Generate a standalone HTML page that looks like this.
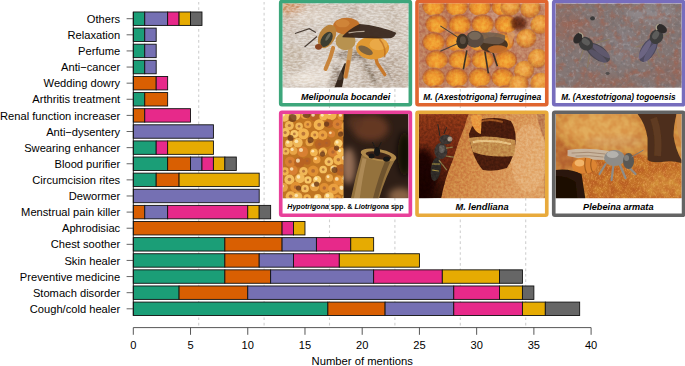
<!DOCTYPE html>
<html><head><meta charset="utf-8"><style>
html,body{margin:0;padding:0;background:#fff;width:685px;height:366px;overflow:hidden}
svg{position:absolute;left:0;top:0;display:block}
text{font-family:"Liberation Sans",sans-serif;font-size:11px;fill:#000}
</style></head><body>
<svg width="685" height="366" viewBox="0 0 685 366">
<line x1="198.7" y1="1.9" x2="198.7" y2="327" stroke="#d0d0d0" stroke-width="1.1" stroke-dasharray="2.7 2.74"/>
<line x1="264.1" y1="1.9" x2="264.1" y2="327" stroke="#d0d0d0" stroke-width="1.1" stroke-dasharray="2.7 2.74"/>
<line x1="329.5" y1="1.9" x2="329.5" y2="327" stroke="#d0d0d0" stroke-width="1.1" stroke-dasharray="2.7 2.74"/>
<line x1="394.9" y1="1.9" x2="394.9" y2="327" stroke="#d0d0d0" stroke-width="1.1" stroke-dasharray="2.7 2.74"/>
<line x1="460.3" y1="1.9" x2="460.3" y2="327" stroke="#d0d0d0" stroke-width="1.1" stroke-dasharray="2.7 2.74"/>
<line x1="525.7" y1="1.9" x2="525.7" y2="327" stroke="#d0d0d0" stroke-width="1.1" stroke-dasharray="2.7 2.74"/>
<rect x="133.3" y="11.98" width="11.44" height="13.43" fill="#1B9E77" stroke="#111" stroke-width="0.9"/>
<rect x="144.75" y="11.98" width="22.89" height="13.43" fill="#7570B3" stroke="#111" stroke-width="0.9"/>
<rect x="167.64" y="11.98" width="11.44" height="13.43" fill="#E7298A" stroke="#111" stroke-width="0.9"/>
<rect x="179.08" y="11.98" width="11.44" height="13.43" fill="#E6AB02" stroke="#111" stroke-width="0.9"/>
<rect x="190.53" y="11.98" width="11.45" height="13.43" fill="#666666" stroke="#111" stroke-width="0.9"/>
<line x1="126.6" y1="18.7" x2="133.3" y2="18.7" stroke="#555" stroke-width="0.9"/>
<text x="120.2" y="22.8" text-anchor="end" style="font-size:11.15px">Others</text>
<rect x="133.3" y="28.1" width="11.44" height="13.43" fill="#1B9E77" stroke="#111" stroke-width="0.9"/>
<rect x="144.75" y="28.1" width="11.44" height="13.43" fill="#7570B3" stroke="#111" stroke-width="0.9"/>
<line x1="126.6" y1="34.81" x2="133.3" y2="34.81" stroke="#555" stroke-width="0.9"/>
<text x="120.2" y="38.91" text-anchor="end" style="font-size:11.15px">Relaxation</text>
<rect x="133.3" y="44.21" width="11.44" height="13.43" fill="#1B9E77" stroke="#111" stroke-width="0.9"/>
<rect x="144.75" y="44.21" width="11.44" height="13.43" fill="#7570B3" stroke="#111" stroke-width="0.9"/>
<line x1="126.6" y1="50.93" x2="133.3" y2="50.93" stroke="#555" stroke-width="0.9"/>
<text x="120.2" y="55.03" text-anchor="end" style="font-size:11.15px">Perfume</text>
<rect x="133.3" y="60.33" width="11.44" height="13.43" fill="#1B9E77" stroke="#111" stroke-width="0.9"/>
<rect x="144.75" y="60.33" width="11.44" height="13.43" fill="#7570B3" stroke="#111" stroke-width="0.9"/>
<line x1="126.6" y1="67.05" x2="133.3" y2="67.05" stroke="#555" stroke-width="0.9"/>
<text x="120.2" y="71.15" text-anchor="end" style="font-size:11.15px">Anti−cancer</text>
<rect x="133.3" y="76.45" width="22.89" height="13.43" fill="#D95F02" stroke="#111" stroke-width="0.9"/>
<rect x="156.19" y="76.45" width="11.45" height="13.43" fill="#E7298A" stroke="#111" stroke-width="0.9"/>
<line x1="126.6" y1="83.16" x2="133.3" y2="83.16" stroke="#555" stroke-width="0.9"/>
<text x="120.2" y="87.26" text-anchor="end" style="font-size:11.15px">Wedding dowry</text>
<rect x="133.3" y="92.57" width="11.44" height="13.43" fill="#1B9E77" stroke="#111" stroke-width="0.9"/>
<rect x="144.75" y="92.57" width="22.89" height="13.43" fill="#D95F02" stroke="#111" stroke-width="0.9"/>
<line x1="126.6" y1="99.28" x2="133.3" y2="99.28" stroke="#555" stroke-width="0.9"/>
<text x="120.2" y="103.38" text-anchor="end" style="font-size:11.15px">Arthritis treatment</text>
<rect x="133.3" y="108.68" width="11.44" height="13.43" fill="#D95F02" stroke="#111" stroke-width="0.9"/>
<rect x="144.75" y="108.68" width="45.78" height="13.43" fill="#E7298A" stroke="#111" stroke-width="0.9"/>
<line x1="126.6" y1="115.4" x2="133.3" y2="115.4" stroke="#555" stroke-width="0.9"/>
<text x="120.2" y="119.5" text-anchor="end" style="font-size:11.15px">Renal function increaser</text>
<rect x="133.3" y="124.8" width="80.12" height="13.43" fill="#7570B3" stroke="#111" stroke-width="0.9"/>
<line x1="126.6" y1="131.51" x2="133.3" y2="131.51" stroke="#555" stroke-width="0.9"/>
<text x="120.2" y="135.61" text-anchor="end" style="font-size:11.15px">Anti−dysentery</text>
<rect x="133.3" y="140.92" width="22.89" height="13.43" fill="#1B9E77" stroke="#111" stroke-width="0.9"/>
<rect x="156.19" y="140.92" width="11.45" height="13.43" fill="#E7298A" stroke="#111" stroke-width="0.9"/>
<rect x="167.64" y="140.92" width="45.78" height="13.43" fill="#E6AB02" stroke="#111" stroke-width="0.9"/>
<line x1="126.6" y1="147.63" x2="133.3" y2="147.63" stroke="#555" stroke-width="0.9"/>
<text x="120.2" y="151.73" text-anchor="end" style="font-size:11.15px">Swearing enhancer</text>
<rect x="133.3" y="157.03" width="34.34" height="13.43" fill="#1B9E77" stroke="#111" stroke-width="0.9"/>
<rect x="167.64" y="157.03" width="22.89" height="13.43" fill="#D95F02" stroke="#111" stroke-width="0.9"/>
<rect x="190.53" y="157.03" width="11.45" height="13.43" fill="#7570B3" stroke="#111" stroke-width="0.9"/>
<rect x="201.97" y="157.03" width="11.44" height="13.43" fill="#E7298A" stroke="#111" stroke-width="0.9"/>
<rect x="213.42" y="157.03" width="11.44" height="13.43" fill="#E6AB02" stroke="#111" stroke-width="0.9"/>
<rect x="224.86" y="157.03" width="11.44" height="13.43" fill="#666666" stroke="#111" stroke-width="0.9"/>
<line x1="126.6" y1="163.75" x2="133.3" y2="163.75" stroke="#555" stroke-width="0.9"/>
<text x="120.2" y="167.85" text-anchor="end" style="font-size:11.15px">Blood purifier</text>
<rect x="133.3" y="173.15" width="22.89" height="13.43" fill="#1B9E77" stroke="#111" stroke-width="0.9"/>
<rect x="156.19" y="173.15" width="22.89" height="13.43" fill="#D95F02" stroke="#111" stroke-width="0.9"/>
<rect x="179.08" y="173.15" width="80.12" height="13.43" fill="#E6AB02" stroke="#111" stroke-width="0.9"/>
<line x1="126.6" y1="179.87" x2="133.3" y2="179.87" stroke="#555" stroke-width="0.9"/>
<text x="120.2" y="183.97" text-anchor="end" style="font-size:11.15px">Circumcision rites</text>
<rect x="133.3" y="189.27" width="125.9" height="13.43" fill="#7570B3" stroke="#111" stroke-width="0.9"/>
<line x1="126.6" y1="195.98" x2="133.3" y2="195.98" stroke="#555" stroke-width="0.9"/>
<text x="120.2" y="200.08" text-anchor="end" style="font-size:11.15px">Dewormer</text>
<rect x="133.3" y="205.38" width="11.44" height="13.43" fill="#D95F02" stroke="#111" stroke-width="0.9"/>
<rect x="144.75" y="205.38" width="22.89" height="13.43" fill="#7570B3" stroke="#111" stroke-width="0.9"/>
<rect x="167.64" y="205.38" width="80.11" height="13.43" fill="#E7298A" stroke="#111" stroke-width="0.9"/>
<rect x="247.75" y="205.38" width="11.45" height="13.43" fill="#E6AB02" stroke="#111" stroke-width="0.9"/>
<rect x="259.2" y="205.38" width="11.44" height="13.43" fill="#666666" stroke="#111" stroke-width="0.9"/>
<line x1="126.6" y1="212.1" x2="133.3" y2="212.1" stroke="#555" stroke-width="0.9"/>
<text x="120.2" y="216.2" text-anchor="end" style="font-size:11.15px">Menstrual pain killer</text>
<rect x="133.3" y="221.5" width="148.79" height="13.43" fill="#D95F02" stroke="#111" stroke-width="0.9"/>
<rect x="282.09" y="221.5" width="11.44" height="13.43" fill="#E7298A" stroke="#111" stroke-width="0.9"/>
<rect x="293.53" y="221.5" width="11.44" height="13.43" fill="#E6AB02" stroke="#111" stroke-width="0.9"/>
<line x1="126.6" y1="228.22" x2="133.3" y2="228.22" stroke="#555" stroke-width="0.9"/>
<text x="120.2" y="232.32" text-anchor="end" style="font-size:11.15px">Aphrodisiac</text>
<rect x="133.3" y="237.62" width="91.56" height="13.43" fill="#1B9E77" stroke="#111" stroke-width="0.9"/>
<rect x="224.86" y="237.62" width="57.23" height="13.43" fill="#D95F02" stroke="#111" stroke-width="0.9"/>
<rect x="282.09" y="237.62" width="34.33" height="13.43" fill="#7570B3" stroke="#111" stroke-width="0.9"/>
<rect x="316.42" y="237.62" width="34.33" height="13.43" fill="#E7298A" stroke="#111" stroke-width="0.9"/>
<rect x="350.75" y="237.62" width="22.89" height="13.43" fill="#E6AB02" stroke="#111" stroke-width="0.9"/>
<line x1="126.6" y1="244.33" x2="133.3" y2="244.33" stroke="#555" stroke-width="0.9"/>
<text x="120.2" y="248.43" text-anchor="end" style="font-size:11.15px">Chest soother</text>
<rect x="133.3" y="253.74" width="91.56" height="13.43" fill="#1B9E77" stroke="#111" stroke-width="0.9"/>
<rect x="224.86" y="253.74" width="34.34" height="13.43" fill="#D95F02" stroke="#111" stroke-width="0.9"/>
<rect x="259.2" y="253.74" width="34.33" height="13.43" fill="#7570B3" stroke="#111" stroke-width="0.9"/>
<rect x="293.53" y="253.74" width="45.78" height="13.43" fill="#E7298A" stroke="#111" stroke-width="0.9"/>
<rect x="339.31" y="253.74" width="80.12" height="13.43" fill="#E6AB02" stroke="#111" stroke-width="0.9"/>
<line x1="126.6" y1="260.45" x2="133.3" y2="260.45" stroke="#555" stroke-width="0.9"/>
<text x="120.2" y="264.55" text-anchor="end" style="font-size:11.15px">Skin healer</text>
<rect x="133.3" y="269.85" width="91.56" height="13.43" fill="#1B9E77" stroke="#111" stroke-width="0.9"/>
<rect x="224.86" y="269.85" width="45.78" height="13.43" fill="#D95F02" stroke="#111" stroke-width="0.9"/>
<rect x="270.64" y="269.85" width="103" height="13.43" fill="#7570B3" stroke="#111" stroke-width="0.9"/>
<rect x="373.64" y="269.85" width="68.67" height="13.43" fill="#E7298A" stroke="#111" stroke-width="0.9"/>
<rect x="442.31" y="269.85" width="57.23" height="13.43" fill="#E6AB02" stroke="#111" stroke-width="0.9"/>
<rect x="499.54" y="269.85" width="22.89" height="13.43" fill="#666666" stroke="#111" stroke-width="0.9"/>
<line x1="126.6" y1="276.57" x2="133.3" y2="276.57" stroke="#555" stroke-width="0.9"/>
<text x="120.2" y="280.67" text-anchor="end" style="font-size:11.15px">Preventive medicine</text>
<rect x="133.3" y="285.97" width="45.78" height="13.43" fill="#1B9E77" stroke="#111" stroke-width="0.9"/>
<rect x="179.08" y="285.97" width="68.67" height="13.43" fill="#D95F02" stroke="#111" stroke-width="0.9"/>
<rect x="247.75" y="285.97" width="206.01" height="13.43" fill="#7570B3" stroke="#111" stroke-width="0.9"/>
<rect x="453.76" y="285.97" width="45.78" height="13.43" fill="#E7298A" stroke="#111" stroke-width="0.9"/>
<rect x="499.54" y="285.97" width="22.89" height="13.43" fill="#E6AB02" stroke="#111" stroke-width="0.9"/>
<rect x="522.43" y="285.97" width="11.44" height="13.43" fill="#666666" stroke="#111" stroke-width="0.9"/>
<line x1="126.6" y1="292.68" x2="133.3" y2="292.68" stroke="#555" stroke-width="0.9"/>
<text x="120.2" y="296.78" text-anchor="end" style="font-size:11.15px">Stomach disorder</text>
<rect x="133.3" y="302.09" width="194.56" height="13.43" fill="#1B9E77" stroke="#111" stroke-width="0.9"/>
<rect x="327.87" y="302.09" width="57.23" height="13.43" fill="#D95F02" stroke="#111" stroke-width="0.9"/>
<rect x="385.09" y="302.09" width="68.67" height="13.43" fill="#7570B3" stroke="#111" stroke-width="0.9"/>
<rect x="453.76" y="302.09" width="68.67" height="13.43" fill="#E7298A" stroke="#111" stroke-width="0.9"/>
<rect x="522.43" y="302.09" width="22.89" height="13.43" fill="#E6AB02" stroke="#111" stroke-width="0.9"/>
<rect x="545.32" y="302.09" width="34.34" height="13.43" fill="#666666" stroke="#111" stroke-width="0.9"/>
<line x1="126.6" y1="308.8" x2="133.3" y2="308.8" stroke="#555" stroke-width="0.9"/>
<text x="120.2" y="312.9" text-anchor="end" style="font-size:11.15px">Cough/cold healer</text>
<line x1="133.3" y1="11.98" x2="133.3" y2="315.52" stroke="#111" stroke-width="0.9"/>
<line x1="133.3" y1="327.6" x2="591.1" y2="327.6" stroke="#444" stroke-width="0.9"/>
<line x1="133.3" y1="327.6" x2="133.3" y2="334.8" stroke="#444" stroke-width="0.9"/>
<text x="133.3" y="348.5" text-anchor="middle" style="font-size:11.1px">0</text>
<line x1="190.53" y1="327.6" x2="190.53" y2="334.8" stroke="#444" stroke-width="0.9"/>
<text x="190.53" y="348.5" text-anchor="middle" style="font-size:11.1px">5</text>
<line x1="247.75" y1="327.6" x2="247.75" y2="334.8" stroke="#444" stroke-width="0.9"/>
<text x="247.75" y="348.5" text-anchor="middle" style="font-size:11.1px">10</text>
<line x1="304.98" y1="327.6" x2="304.98" y2="334.8" stroke="#444" stroke-width="0.9"/>
<text x="304.98" y="348.5" text-anchor="middle" style="font-size:11.1px">15</text>
<line x1="362.2" y1="327.6" x2="362.2" y2="334.8" stroke="#444" stroke-width="0.9"/>
<text x="362.2" y="348.5" text-anchor="middle" style="font-size:11.1px">20</text>
<line x1="419.43" y1="327.6" x2="419.43" y2="334.8" stroke="#444" stroke-width="0.9"/>
<text x="419.43" y="348.5" text-anchor="middle" style="font-size:11.1px">25</text>
<line x1="476.65" y1="327.6" x2="476.65" y2="334.8" stroke="#444" stroke-width="0.9"/>
<text x="476.65" y="348.5" text-anchor="middle" style="font-size:11.1px">30</text>
<line x1="533.88" y1="327.6" x2="533.88" y2="334.8" stroke="#444" stroke-width="0.9"/>
<text x="533.88" y="348.5" text-anchor="middle" style="font-size:11.1px">35</text>
<line x1="591.1" y1="327.6" x2="591.1" y2="334.8" stroke="#444" stroke-width="0.9"/>
<text x="591.1" y="348.5" text-anchor="middle" style="font-size:11.1px">40</text>
<text x="362.2" y="365.3" text-anchor="middle" style="font-size:11.25px">Number of mentions</text>
<defs><filter id="b05" x="-10%" y="-10%" width="120%" height="120%"><feGaussianBlur stdDeviation="0.5"/></filter>
<filter id="b06" x="-10%" y="-10%" width="120%" height="120%"><feGaussianBlur stdDeviation="0.6"/></filter>
<filter id="b08" x="-10%" y="-10%" width="120%" height="120%"><feGaussianBlur stdDeviation="0.8"/></filter>
<filter id="b15" x="-20%" y="-20%" width="140%" height="140%"><feGaussianBlur stdDeviation="1.5"/></filter>
<filter id="b3" x="-50%" y="-50%" width="200%" height="200%"><feGaussianBlur stdDeviation="3"/></filter>
<filter id="noise3" x="0" y="0" width="100%" height="100%" color-interpolation-filters="sRGB"><feTurbulence type="fractalNoise" baseFrequency="0.12" numOctaves="3" seed="5"/><feColorMatrix type="matrix" values="0 0 0 0 0.64  0 0 0 0 0.38  0 0 0 0 0.30  3.0 0 0 0 -1.4"/></filter><filter id="noise3c" x="0" y="0" width="100%" height="100%" color-interpolation-filters="sRGB"><feTurbulence type="fractalNoise" baseFrequency="0.2" numOctaves="2" seed="21"/><feColorMatrix type="matrix" values="0 0 0 0 0.38  0 0 0 0 0.38  0 0 0 0 0.40  3.0 0 0 0 -1.6"/></filter>
<filter id="noise3b" x="0" y="0" width="100%" height="100%" color-interpolation-filters="sRGB"><feTurbulence type="fractalNoise" baseFrequency="0.3" numOctaves="2" seed="8"/><feColorMatrix type="matrix" values="0 0 0 0 0.78  0 0 0 0 0.78  0 0 0 0 0.80  3.4 0 0 0 -1.8"/></filter>
<filter id="noise6" x="0" y="0" width="100%" height="100%" color-interpolation-filters="sRGB"><feTurbulence type="fractalNoise" baseFrequency="0.5" numOctaves="2" seed="9"/><feColorMatrix type="matrix" values="0 0 0 0 0.95  0 0 0 0 0.68  0 0 0 0 0.38  2.6 0 0 0 -1.2"/></filter>
<linearGradient id="p1bg" x1="0" y1="0" x2="1" y2="1"><stop offset="0" stop-color="#d2bcaa"/><stop offset="0.25" stop-color="#d6cdc4"/><stop offset="0.6" stop-color="#dad0c6"/><stop offset="1" stop-color="#d0c4b8"/></linearGradient>
<radialGradient id="cellg" cx="0.5" cy="0.58" r="0.55" fx="0.5" fy="0.66"><stop offset="0" stop-color="#f4a836"/><stop offset="0.45" stop-color="#ee9a30"/><stop offset="0.72" stop-color="#d8802c"/><stop offset="0.88" stop-color="#b8663c"/><stop offset="1" stop-color="#c08466" stop-opacity="0"/></radialGradient><radialGradient id="capg" cx="0.45" cy="0.4" r="0.55"><stop offset="0" stop-color="#f4b458"/><stop offset="0.5" stop-color="#e89a3c"/><stop offset="0.85" stop-color="#c87834"/><stop offset="1" stop-color="#a85a30" stop-opacity="0"/></radialGradient>
<linearGradient id="p3bg" x1="0" y1="0" x2="1" y2="1"><stop offset="0" stop-color="#86786f"/><stop offset="0.5" stop-color="#7e7a78"/><stop offset="1" stop-color="#84766e"/></linearGradient>
<linearGradient id="p4bg" x1="0" y1="0" x2="1" y2="1"><stop offset="0" stop-color="#4a3022"/><stop offset="0.5" stop-color="#3c281c"/><stop offset="1" stop-color="#4e3220"/></linearGradient>
<linearGradient id="p5bg" x1="0" y1="0" x2="0" y2="1"><stop offset="0" stop-color="#8a3616"/><stop offset="0.5" stop-color="#6a2410"/><stop offset="1" stop-color="#2a0c04"/></linearGradient>
<linearGradient id="p5mound" x1="0" y1="0" x2="1" y2="0.3"><stop offset="0" stop-color="#c07436"/><stop offset="0.45" stop-color="#d28a48"/><stop offset="1" stop-color="#dea064"/></linearGradient>
<linearGradient id="p6bg_old" x1="0" y1="0" x2="1" y2="1"><stop offset="0" stop-color="#c89060"/><stop offset="0.4" stop-color="#b87a44"/><stop offset="1" stop-color="#a8602a"/></linearGradient>
<clipPath id="cl4"><rect x="0" y="0" width="61" height="86"/></clipPath>
<clipPath id="cl6"><path d="M22 52 Q50 40 76 40 Q100 44 126 46 L126 86 L30 86 Q26 64 22 52Z"/></clipPath>
<filter id="nz1" x="0" y="0" width="100%" height="100%" color-interpolation-filters="sRGB"><feTurbulence type="fractalNoise" baseFrequency="0.25 0.6" numOctaves="2" seed="3"/><feColorMatrix type="matrix" values="2.6 0 0 0 -0.8  2.6 0 0 0 -0.8  2.6 0 0 0 -0.8  0 0 0 0 1"/></filter><filter id="nz2" x="0" y="0" width="100%" height="100%" color-interpolation-filters="sRGB"><feTurbulence type="fractalNoise" baseFrequency="0.3" numOctaves="2" seed="4"/><feColorMatrix type="matrix" values="2.0 0 0 0 -0.5  2.0 0 0 0 -0.5  2.0 0 0 0 -0.5  0 0 0 0 1"/></filter><filter id="nz5" x="0" y="0" width="100%" height="100%" color-interpolation-filters="sRGB"><feTurbulence type="fractalNoise" baseFrequency="0.4" numOctaves="2" seed="6"/><feColorMatrix type="matrix" values="2.0 0 0 0 -0.5  2.0 0 0 0 -0.5  2.0 0 0 0 -0.5  0 0 0 0 1"/></filter><filter id="nz6" x="0" y="0" width="100%" height="100%" color-interpolation-filters="sRGB"><feTurbulence type="fractalNoise" baseFrequency="0.15" numOctaves="2" seed="12"/><feColorMatrix type="matrix" values="2.4 0 0 0 -0.7  2.4 0 0 0 -0.7  2.4 0 0 0 -0.7  0 0 0 0 1"/></filter><clipPath id="cp0"><rect x="0" y="0" width="126" height="84.5"/></clipPath><clipPath id="cp1"><rect x="0" y="0" width="126.1" height="84.5"/></clipPath><clipPath id="cp2"><rect x="0" y="0" width="126.2" height="84.5"/></clipPath><clipPath id="cp3"><rect x="0" y="0" width="126" height="84.15"/></clipPath><clipPath id="cp4"><rect x="0" y="0" width="126.1" height="84.15"/></clipPath><clipPath id="cp5"><rect x="0" y="0" width="126.2" height="84.15"/></clipPath></defs>
<g transform="translate(282.55 3.35)" clip-path="url(#cp0)" style="isolation:isolate"><rect width="126" height="84.5" fill="url(#p1bg)"/><g filter="url(#b3)"><ellipse cx="6" cy="3" rx="16" ry="8" fill="#d49c70" opacity="0.8"/><path d="M66 0 L76 0 L74 20 L66 20Z" fill="#b8a898" opacity="0.45"/><path d="M104 0 L112 0 L118 34 L108 34Z" fill="#b8a898" opacity="0.35"/><path d="M74 54 L118 50 L122 84 L80 84Z" fill="#a89888" opacity="0.3"/><ellipse cx="40" cy="72" rx="22" ry="10" fill="#ebe3da" opacity="0.7"/><ellipse cx="30" cy="12" rx="22" ry="8" fill="#e6dcd0" opacity="0.6"/><ellipse cx="10" cy="55" rx="12" ry="14" fill="#c8b8a6" opacity="0.5"/></g><g filter="url(#b15)"><ellipse cx="72" cy="52" rx="18" ry="5" fill="#7a6a5a" opacity="0.5"/><path d="M84 58 Q90 66 96 80 L90 80 Q84 68 80 60Z" fill="#7a6a5a" opacity="0.45"/><path d="M50 62 L58 60 L56 84 L46 84Z" fill="#8a7a6a" opacity="0.45"/><ellipse cx="20" cy="76" rx="14" ry="6" fill="#f0e8de" opacity="0.6"/></g><rect width="126" height="84.5" filter="url(#nz1)" style="mix-blend-mode:overlay" opacity="0.3"/><g filter="url(#b06)"><path d="M62 60 L65.5 60 Q61 72 59.5 84 L52 84 Q56 72 62 60Z" fill="#35281e"/><ellipse cx="57" cy="72" rx="3" ry="5" fill="#6a5a4e" opacity="0.4"/><path d="M100 60 Q106 68 110 78" stroke="#8a7a6e" stroke-width="1.6" fill="none" opacity="0.35"/></g><g filter="url(#b05)"><path d="M33.4 29.2 L26.7 25.4 L12.4 30.2" stroke="#4a3e36" stroke-width="1.2" fill="none"/><path d="M34.4 33.1 L22 43.6" stroke="#4a3e36" stroke-width="1.2" fill="none"/><path d="M50.6 44.5 L47.8 54.1 L43 65.6" stroke="#c8843a" stroke-width="4" fill="none" stroke-linecap="round"/><path d="M67.9 46.4 L66 57.9 L63.1 73.2" stroke="#c89858" stroke-width="4.5" fill="none" stroke-linecap="round"/><path d="M66 58 L63.1 73.2" stroke="#c87a30" stroke-width="3" fill="none" stroke-linecap="round"/><path d="M92.7 52.2 L94.6 59.8 L102.3 71.3" stroke="#c8782c" stroke-width="3.4" fill="none" stroke-linecap="round"/><ellipse cx="90" cy="44.5" rx="16.5" ry="11.5" fill="#e09830"/><ellipse cx="96" cy="41" rx="9" ry="6" fill="#eeb050" opacity="0.7"/><path d="M97 36 Q104 44 102 54" stroke="#b86a20" stroke-width="1.5" fill="none" opacity="0.7"/><ellipse cx="83" cy="47" rx="8" ry="3.6" transform="rotate(28 83 47)" fill="#6a5844" opacity="0.85"/><ellipse cx="63" cy="37.8" rx="10" ry="9" fill="#b89250"/><ellipse cx="64" cy="23" rx="13.5" ry="8.5" fill="#c2722a"/><ellipse cx="60" cy="20" rx="7" ry="4" fill="#d48c40" opacity="0.7"/><path d="M60 33 Q66 26 77 20.6 Q96 22 113.8 29.5 Q112 34 108 35 Q86 35.5 60 34Z" fill="#38261a" opacity="0.95"/><path d="M66 29.5 Q74 28 82 28" stroke="#c8b8a8" stroke-width="1.1" fill="none" opacity="0.85"/><ellipse cx="44.5" cy="33" rx="8" ry="12.5" transform="rotate(28 44.5 33)" fill="#b8823a"/><ellipse cx="44" cy="36" rx="5" ry="8.5" transform="rotate(32 44 36)" fill="#3a3c30"/><ellipse cx="45.5" cy="33.5" rx="1.4" ry="4.5" transform="rotate(32 45.5 33.5)" fill="#8a8a78" opacity="0.6"/><ellipse cx="36" cy="43.5" rx="3.5" ry="2.8" fill="#8a4420"/></g></g>
<g transform="translate(418.85 3.35)" clip-path="url(#cp1)" style="isolation:isolate"><rect width="126.1" height="84.5" fill="#c08466"/><g filter="url(#b3)"><ellipse cx="30" cy="40" rx="30" ry="40" fill="#b87050" opacity="0.5"/><ellipse cx="80" cy="10" rx="30" ry="10" fill="#c89078" opacity="0.5"/></g><g filter="url(#b06)"><ellipse cx="14.8" cy="2" rx="11.6" ry="10.4" fill="url(#cellg)"/><ellipse cx="37.8" cy="2" rx="11.6" ry="10.4" fill="url(#cellg)"/><ellipse cx="60.8" cy="2" rx="11.6" ry="10.4" fill="url(#cellg)"/><ellipse cx="83.8" cy="2" rx="11.6" ry="10.4" fill="url(#cellg)"/><ellipse cx="17.8" cy="19.8" rx="11.6" ry="10.4" fill="url(#cellg)"/><ellipse cx="40.8" cy="19.8" rx="11.6" ry="10.4" fill="url(#cellg)"/><ellipse cx="63.8" cy="19.8" rx="11.6" ry="10.4" fill="url(#cellg)"/><ellipse cx="86.8" cy="19.8" rx="11.6" ry="10.4" fill="url(#cellg)"/><ellipse cx="14.8" cy="37.6" rx="11.6" ry="10.4" fill="url(#cellg)"/><ellipse cx="37.8" cy="37.6" rx="11.6" ry="10.4" fill="url(#cellg)"/><ellipse cx="60.8" cy="37.6" rx="11.6" ry="10.4" fill="url(#cellg)"/><ellipse cx="83.8" cy="37.6" rx="11.6" ry="10.4" fill="url(#cellg)"/><ellipse cx="17.8" cy="55.4" rx="11.6" ry="10.4" fill="url(#cellg)"/><ellipse cx="40.8" cy="55.4" rx="11.6" ry="10.4" fill="url(#cellg)"/><ellipse cx="63.8" cy="55.4" rx="11.6" ry="10.4" fill="url(#cellg)"/><ellipse cx="86.8" cy="55.4" rx="11.6" ry="10.4" fill="url(#cellg)"/><ellipse cx="14.8" cy="73.2" rx="11.6" ry="10.4" fill="url(#cellg)"/><ellipse cx="37.8" cy="73.2" rx="11.6" ry="10.4" fill="url(#cellg)"/><ellipse cx="60.8" cy="73.2" rx="11.6" ry="10.4" fill="url(#cellg)"/><ellipse cx="83.8" cy="73.2" rx="11.6" ry="10.4" fill="url(#cellg)"/><ellipse cx="17.8" cy="91" rx="11.6" ry="10.4" fill="url(#cellg)"/><ellipse cx="40.8" cy="91" rx="11.6" ry="10.4" fill="url(#cellg)"/><ellipse cx="63.8" cy="91" rx="11.6" ry="10.4" fill="url(#cellg)"/><ellipse cx="86.8" cy="91" rx="11.6" ry="10.4" fill="url(#cellg)"/><circle cx="107.8" cy="36" r="10.5" fill="url(#capg)"/><circle cx="122" cy="22" r="10.5" fill="url(#capg)"/><circle cx="119.2" cy="56" r="10.5" fill="url(#capg)"/><circle cx="105.6" cy="68" r="10.5" fill="url(#capg)"/><circle cx="122" cy="80" r="10.5" fill="url(#capg)"/><circle cx="100" cy="82" r="10.5" fill="url(#capg)"/><circle cx="112" cy="6" r="10.5" fill="url(#capg)"/><circle cx="92" cy="4" r="10.5" fill="url(#capg)"/></g><ellipse cx="100" cy="20" rx="8" ry="7" fill="#5a2410" filter="url(#b15)" opacity="0.85"/><rect width="126.1" height="84.5" filter="url(#nz2)" style="mix-blend-mode:overlay" opacity="0.15"/><g filter="url(#b05)"><path d="M40 34.5 L21.5 22.5" stroke="#4a4038" stroke-width="1.1" fill="none"/><path d="M38.5 40.5 L21.5 48" stroke="#4a4038" stroke-width="1.1" fill="none"/><path d="M48 47 L44.5 66" stroke="#3a3028" stroke-width="1.6" fill="none"/><path d="M66 48 L69.5 70" stroke="#3a3028" stroke-width="1.6" fill="none"/><path d="M74 49 L78.5 63" stroke="#3a3028" stroke-width="1.6" fill="none"/><ellipse cx="75" cy="41.5" rx="14" ry="8" fill="#4a3424"/><ellipse cx="79" cy="46" rx="10" ry="4" fill="#c8702a" opacity="0.9"/><path d="M56 32 Q70 26 86 32 Q88 39 80 41 Q66 41 56 37Z" fill="#6e5e4e" opacity="0.85"/><ellipse cx="56" cy="36" rx="9" ry="8.5" fill="#5a4c40"/><ellipse cx="56" cy="32.5" rx="6" ry="4" fill="#8a7a6a" opacity="0.6"/><ellipse cx="43.5" cy="38" rx="6" ry="7.5" fill="#3a3028"/><ellipse cx="44" cy="37" rx="3" ry="4" fill="#7a6a58" opacity="0.5"/><path d="M88 30 Q94 26 96 32 L92 42Z" fill="#e0a060" opacity="0.7"/></g></g>
<g transform="translate(555.55 3.35)" clip-path="url(#cp2)" style="isolation:isolate"><rect width="126.2" height="84.5" fill="#847674"/><g filter="url(#b3)"><ellipse cx="14" cy="24" rx="18" ry="16" fill="#9a6656" opacity="0.5"/><ellipse cx="50" cy="82" rx="34" ry="9" fill="#946656" opacity="0.5"/><ellipse cx="112" cy="70" rx="18" ry="12" fill="#946656" opacity="0.45"/><ellipse cx="95" cy="10" rx="25" ry="8" fill="#9a9aa0" opacity="0.5"/><ellipse cx="68" cy="42" rx="14" ry="20" fill="#8a8488" opacity="0.5"/></g><rect width="126.2" height="84.5" filter="url(#noise3)" opacity="0.6"/><rect width="126.2" height="84.5" filter="url(#noise3b)" opacity="0.3"/><rect width="126.2" height="84.5" filter="url(#noise3c)" opacity="0.35"/><g filter="url(#b06)"><path d="M28 46 L24 58 M34 50 L32 64 M44 52 L50 60 M40 40 L54 36 M48 56 L50 64" stroke="#8a7a60" stroke-width="1" fill="none"/><g transform="rotate(36 27 38)"><ellipse cx="46" cy="38" rx="14" ry="7" fill="#4a4650"/><ellipse cx="48" cy="35" rx="11" ry="3" fill="#7a7290" opacity="0.45"/><ellipse cx="48" cy="41" rx="11" ry="3" fill="#6a6280" opacity="0.45"/><ellipse cx="31" cy="38" rx="7.5" ry="6.5" fill="#3e3c3c"/><ellipse cx="30" cy="36.5" rx="4.5" ry="3" fill="#6a6866" opacity="0.7"/><ellipse cx="21.5" cy="38" rx="4" ry="6" fill="#2e2c2c"/><path d="M19 33 Q23 31 25 35" stroke="#b0a890" stroke-width="1.2" fill="none"/></g><path d="M96 42 L92 56 M100 42 L104 54 M90 40 L80 44 M104 34 L114 30 M90 50 L94 62" stroke="#8a7a60" stroke-width="1" fill="none"/><g transform="rotate(-58 103 30)"><ellipse cx="84" cy="30" rx="14" ry="7" fill="#4e4a5e"/><ellipse cx="82" cy="27" rx="11" ry="3" fill="#8a80a8" opacity="0.5"/><ellipse cx="82" cy="33" rx="11" ry="3" fill="#7a7098" opacity="0.45"/><ellipse cx="99" cy="30" rx="7.5" ry="6.5" fill="#3e3c3c"/><ellipse cx="100" cy="28.5" rx="4.5" ry="3" fill="#6a6866" opacity="0.7"/><ellipse cx="108.5" cy="30" rx="4" ry="6" fill="#2e2c2c"/><path d="M111 25 Q107 23 105 27" stroke="#b0a890" stroke-width="1.2" fill="none"/></g><ellipse cx="37" cy="15" rx="2.4" ry="2.2" fill="#3a3a3a"/><ellipse cx="52" cy="70" rx="2" ry="1.6" fill="#3a3a3a" opacity="0.7"/></g></g>
<g transform="translate(282.55 114.05)" clip-path="url(#cp3)" style="isolation:isolate"><rect width="126" height="84.15" fill="#2e1e16"/><g filter="url(#b3)"><ellipse cx="88" cy="14" rx="18" ry="13" fill="#6a3a24" opacity="0.9"/><ellipse cx="72" cy="8" rx="8" ry="8" fill="#5a3420" opacity="0.8"/><ellipse cx="122" cy="40" rx="7" ry="22" fill="#120a06" opacity="0.9"/><ellipse cx="66" cy="52" rx="7" ry="18" fill="#b08468" opacity="0.8"/><ellipse cx="118" cy="82" rx="12" ry="8" fill="#a07452" opacity="0.8"/></g><g filter="url(#b06)"><path d="M79 41 L113 45 Q104 60 96 86 L68 86 Q73 62 79 41Z" fill="#94723e"/><path d="M80 44 Q76 62 71 86 L77 86 Q80 62 84 45Z" fill="#b89462" opacity="0.7"/><path d="M108 47 Q101 62 95 86 L90 86 Q96 62 103 46Z" fill="#5e4428" opacity="0.7"/><ellipse cx="96" cy="41" rx="18" ry="5.8" transform="rotate(10 96 41)" fill="#b08a4c"/><ellipse cx="96" cy="41.5" rx="13" ry="3.6" transform="rotate(10 96 41.5)" fill="#3a2418"/><ellipse cx="94.5" cy="37.5" rx="3" ry="4.5" fill="#161412"/><path d="M93 34 L90 28 M96 34 L99 28" stroke="#1a1a1a" stroke-width="0.9"/><ellipse cx="89" cy="42" rx="3" ry="2.5" fill="#161412"/><ellipse cx="104" cy="45" rx="3.4" ry="2.6" fill="#161412"/></g><g clip-path="url(#cl4)" filter="url(#b05)"><rect x="0" y="0" width="61" height="86" fill="#c07424"/><circle cx="1.86" cy="2.18" r="5.45" fill="#f4c060"/><circle cx="0.22" cy="0.54" r="2.07" fill="#fff4d0" opacity="0.75"/><circle cx="12.67" cy="1.07" r="5.21" fill="#f4c060"/><circle cx="11.1" cy="-0.49" r="1.98" fill="#fff4d0" opacity="0.75"/><circle cx="22.08" cy="0.78" r="4.21" fill="#eaa040"/><circle cx="20.82" cy="-0.48" r="1.6" fill="#fff4d0" opacity="0.75"/><circle cx="31.97" cy="2.4" r="4.79" fill="#b86424"/><circle cx="30.53" cy="0.97" r="1.82" fill="#fff4d0" opacity="0.75"/><circle cx="40.86" cy="2.35" r="3.91" fill="#f2b450"/><circle cx="39.69" cy="1.17" r="1.49" fill="#fff4d0" opacity="0.75"/><circle cx="48.69" cy="0.61" r="5.36" fill="#f2b450"/><circle cx="47.08" cy="-1" r="2.04" fill="#fff4d0" opacity="0.75"/><circle cx="59.08" cy="2.27" r="3.99" fill="#e09032"/><circle cx="57.88" cy="1.08" r="1.52" fill="#fff4d0" opacity="0.75"/><circle cx="6.8" cy="11.49" r="4.51" fill="#f0b858"/><circle cx="6.8" cy="11.49" r="1.58" fill="#a86030" opacity="0.75"/><circle cx="16.55" cy="12.3" r="3.77" fill="#f0b858"/><circle cx="16.55" cy="12.3" r="1.32" fill="#a86030" opacity="0.75"/><circle cx="25.19" cy="10.37" r="3.74" fill="#eaa040"/><circle cx="25.19" cy="10.37" r="1.31" fill="#a86030" opacity="0.75"/><circle cx="36.64" cy="10.66" r="5.52" fill="#f2b450"/><circle cx="36.64" cy="10.66" r="1.93" fill="#a86030" opacity="0.75"/><circle cx="46.48" cy="9.66" r="4.35" fill="#b86424"/><circle cx="46.48" cy="9.66" r="1.52" fill="#a86030" opacity="0.75"/><circle cx="55" cy="10.1" r="4.95" fill="#d88030"/><circle cx="55" cy="10.1" r="1.73" fill="#a86030" opacity="0.75"/><circle cx="63.9" cy="12.39" r="5.12" fill="#eaa040"/><circle cx="63.9" cy="12.39" r="1.79" fill="#a86030" opacity="0.75"/><circle cx="2.62" cy="18.53" r="4.53" fill="#f4c060"/><circle cx="2.62" cy="18.53" r="1.59" fill="#a86030" opacity="0.75"/><circle cx="11.78" cy="19.84" r="3.98" fill="#f8c868"/><circle cx="11.78" cy="19.84" r="1.39" fill="#a86030" opacity="0.75"/><circle cx="20.85" cy="19.68" r="5.58" fill="#f2b450"/><circle cx="20.85" cy="19.68" r="1.95" fill="#a86030" opacity="0.75"/><circle cx="32.21" cy="20.91" r="4.21" fill="#f2b450"/><circle cx="32.21" cy="20.91" r="1.47" fill="#a86030" opacity="0.75"/><circle cx="40.08" cy="21.06" r="4.88" fill="#eaa040"/><circle cx="40.08" cy="21.06" r="1.71" fill="#a86030" opacity="0.75"/><circle cx="48.94" cy="19.82" r="3.62" fill="#d88030"/><circle cx="47.85" cy="18.74" r="1.38" fill="#fff4d0" opacity="0.75"/><circle cx="59.26" cy="18.72" r="4.02" fill="#e09032"/><circle cx="59.26" cy="18.72" r="1.41" fill="#a86030" opacity="0.75"/><circle cx="6.41" cy="29.37" r="3.85" fill="#f4c060"/><circle cx="5.25" cy="28.21" r="1.46" fill="#fff4d0" opacity="0.75"/><circle cx="15.31" cy="28.66" r="4.85" fill="#f0b858"/><circle cx="13.85" cy="27.2" r="1.84" fill="#fff4d0" opacity="0.75"/><circle cx="26.95" cy="28.25" r="3.98" fill="#e8a444"/><circle cx="26.95" cy="28.25" r="1.39" fill="#a86030" opacity="0.75"/><circle cx="36.95" cy="30.15" r="4.81" fill="#b86424"/><circle cx="36.95" cy="30.15" r="1.68" fill="#a86030" opacity="0.75"/><circle cx="44.03" cy="29.04" r="4.11" fill="#b86424"/><circle cx="44.03" cy="29.04" r="1.44" fill="#a86030" opacity="0.75"/><circle cx="55.77" cy="29.29" r="4.19" fill="#f8c868"/><circle cx="54.52" cy="28.03" r="1.59" fill="#fff4d0" opacity="0.75"/><circle cx="65.83" cy="27.88" r="4.56" fill="#eaa040"/><circle cx="65.83" cy="27.88" r="1.6" fill="#a86030" opacity="0.75"/><circle cx="3.25" cy="37.11" r="3.63" fill="#f0b858"/><circle cx="3.25" cy="37.11" r="1.27" fill="#a86030" opacity="0.75"/><circle cx="10.85" cy="36.64" r="4.16" fill="#e8a444"/><circle cx="9.6" cy="35.39" r="1.58" fill="#fff4d0" opacity="0.75"/><circle cx="20.09" cy="37.59" r="5.38" fill="#d88030"/><circle cx="18.48" cy="35.97" r="2.05" fill="#fff4d0" opacity="0.75"/><circle cx="31.37" cy="38.25" r="3.88" fill="#f2b450"/><circle cx="30.21" cy="37.09" r="1.47" fill="#fff4d0" opacity="0.75"/><circle cx="40.32" cy="37.57" r="4.22" fill="#f2b450"/><circle cx="40.32" cy="37.57" r="1.48" fill="#a86030" opacity="0.75"/><circle cx="50.41" cy="37.95" r="5.06" fill="#d88030"/><circle cx="50.41" cy="37.95" r="1.77" fill="#a86030" opacity="0.75"/><circle cx="58.32" cy="37.86" r="4.34" fill="#f2b450"/><circle cx="57.02" cy="36.56" r="1.65" fill="#fff4d0" opacity="0.75"/><circle cx="7.51" cy="47.61" r="5.19" fill="#d88030"/><circle cx="7.51" cy="47.61" r="1.82" fill="#a86030" opacity="0.75"/><circle cx="16.96" cy="48.2" r="5.34" fill="#b86424"/><circle cx="15.35" cy="46.6" r="2.03" fill="#fff4d0" opacity="0.75"/><circle cx="24.59" cy="47" r="3.63" fill="#b86424"/><circle cx="24.59" cy="47" r="1.27" fill="#a86030" opacity="0.75"/><circle cx="34.14" cy="45.72" r="3.78" fill="#eaa040"/><circle cx="33" cy="44.58" r="1.44" fill="#fff4d0" opacity="0.75"/><circle cx="46.34" cy="47.68" r="4.38" fill="#f4c060"/><circle cx="46.34" cy="47.68" r="1.53" fill="#a86030" opacity="0.75"/><circle cx="55.82" cy="45.75" r="5.1" fill="#f2b450"/><circle cx="55.82" cy="45.75" r="1.79" fill="#a86030" opacity="0.75"/><circle cx="63.16" cy="45.57" r="5.51" fill="#eaa040"/><circle cx="61.51" cy="43.91" r="2.1" fill="#fff4d0" opacity="0.75"/><circle cx="2.34" cy="57.26" r="4.11" fill="#f2b450"/><circle cx="2.34" cy="57.26" r="1.44" fill="#a86030" opacity="0.75"/><circle cx="10.53" cy="56.34" r="4.64" fill="#d88030"/><circle cx="9.14" cy="54.94" r="1.76" fill="#fff4d0" opacity="0.75"/><circle cx="21.03" cy="57.18" r="4.25" fill="#f0b858"/><circle cx="21.03" cy="57.18" r="1.49" fill="#a86030" opacity="0.75"/><circle cx="30.59" cy="56.92" r="5.43" fill="#e09032"/><circle cx="30.59" cy="56.92" r="1.9" fill="#a86030" opacity="0.75"/><circle cx="40.65" cy="55.45" r="3.87" fill="#f4c060"/><circle cx="40.65" cy="55.45" r="1.36" fill="#a86030" opacity="0.75"/><circle cx="51.19" cy="54.62" r="3.73" fill="#f0b858"/><circle cx="50.07" cy="53.5" r="1.42" fill="#fff4d0" opacity="0.75"/><circle cx="58.44" cy="55.91" r="5.45" fill="#b86424"/><circle cx="58.44" cy="55.91" r="1.91" fill="#a86030" opacity="0.75"/><circle cx="6.86" cy="65.52" r="5.03" fill="#f4c060"/><circle cx="6.86" cy="65.52" r="1.76" fill="#a86030" opacity="0.75"/><circle cx="17.39" cy="64.33" r="4.82" fill="#f0b858"/><circle cx="15.94" cy="62.89" r="1.83" fill="#fff4d0" opacity="0.75"/><circle cx="25.43" cy="65.87" r="3.64" fill="#f8c868"/><circle cx="25.43" cy="65.87" r="1.27" fill="#a86030" opacity="0.75"/><circle cx="34.67" cy="65.81" r="4.13" fill="#f8c868"/><circle cx="33.43" cy="64.57" r="1.57" fill="#fff4d0" opacity="0.75"/><circle cx="46.65" cy="63.85" r="3.82" fill="#e8a444"/><circle cx="45.51" cy="62.7" r="1.45" fill="#fff4d0" opacity="0.75"/><circle cx="55.72" cy="66.38" r="4.97" fill="#e09032"/><circle cx="54.23" cy="64.88" r="1.89" fill="#fff4d0" opacity="0.75"/><circle cx="63.67" cy="65.64" r="5.11" fill="#e8a444"/><circle cx="62.14" cy="64.11" r="1.94" fill="#fff4d0" opacity="0.75"/><circle cx="1.04" cy="73.32" r="4.29" fill="#e8a444"/><circle cx="-0.25" cy="72.03" r="1.63" fill="#fff4d0" opacity="0.75"/><circle cx="13.09" cy="72.98" r="5.3" fill="#e09032"/><circle cx="13.09" cy="72.98" r="1.85" fill="#a86030" opacity="0.75"/><circle cx="22.5" cy="74.67" r="3.86" fill="#f4c060"/><circle cx="22.5" cy="74.67" r="1.35" fill="#a86030" opacity="0.75"/><circle cx="31.96" cy="72.52" r="4.7" fill="#e8a444"/><circle cx="30.55" cy="71.11" r="1.79" fill="#fff4d0" opacity="0.75"/><circle cx="41.73" cy="73.89" r="4.9" fill="#e09032"/><circle cx="41.73" cy="73.89" r="1.72" fill="#a86030" opacity="0.75"/><circle cx="51.1" cy="74.89" r="5.45" fill="#eaa040"/><circle cx="51.1" cy="74.89" r="1.91" fill="#a86030" opacity="0.75"/><circle cx="60.8" cy="75.44" r="5.55" fill="#e8a444"/><circle cx="59.13" cy="73.78" r="2.11" fill="#fff4d0" opacity="0.75"/><circle cx="8.1" cy="82.29" r="5.04" fill="#f2b450"/><circle cx="8.1" cy="82.29" r="1.76" fill="#a86030" opacity="0.75"/><circle cx="15.15" cy="82.82" r="4.7" fill="#f0b858"/><circle cx="13.74" cy="81.41" r="1.79" fill="#fff4d0" opacity="0.75"/><circle cx="24.59" cy="83.93" r="3.73" fill="#f2b450"/><circle cx="24.59" cy="83.93" r="1.3" fill="#a86030" opacity="0.75"/><circle cx="35.11" cy="83.86" r="3.88" fill="#f8c868"/><circle cx="33.94" cy="82.7" r="1.47" fill="#fff4d0" opacity="0.75"/><circle cx="46.4" cy="83.05" r="4.96" fill="#f4c060"/><circle cx="44.91" cy="81.57" r="1.88" fill="#fff4d0" opacity="0.75"/><circle cx="54.78" cy="84.35" r="3.77" fill="#e09032"/><circle cx="54.78" cy="84.35" r="1.32" fill="#a86030" opacity="0.75"/><circle cx="64.58" cy="83.99" r="4.72" fill="#f8c868"/><circle cx="63.16" cy="82.58" r="1.79" fill="#fff4d0" opacity="0.75"/><circle cx="10" cy="4" r="4" fill="#6a3a1c" opacity="0.8"/><circle cx="24" cy="0" r="4" fill="#6a3a1c" opacity="0.8"/><circle cx="8" cy="24" r="3" fill="#6a3a1c" opacity="0.8"/><circle cx="28" cy="26" r="3" fill="#6a3a1c" opacity="0.8"/><circle cx="44" cy="10" r="2.6" fill="#6a3a1c" opacity="0.8"/><circle cx="52" cy="56" r="3" fill="#6a3a1c" opacity="0.8"/><circle cx="16" cy="74" r="2.6" fill="#6a3a1c" opacity="0.8"/><circle cx="40" cy="40" r="2.6" fill="#6a3a1c" opacity="0.8"/><circle cx="34" cy="70" r="2.6" fill="#6a3a1c" opacity="0.8"/><circle cx="54" cy="34" r="2.6" fill="#6a3a1c" opacity="0.8"/><circle cx="58" cy="20" r="2.6" fill="#6a3a1c" opacity="0.8"/></g></g>
<g transform="translate(418.85 114.05)" clip-path="url(#cp4)" style="isolation:isolate"><rect width="126.1" height="84.15" fill="url(#p5bg)"/><ellipse cx="4" cy="62" rx="14" ry="28" fill="#140602" filter="url(#b3)" opacity="0.9"/><g filter="url(#b06)"><path d="M22 86 Q26 64 34 46 Q40 26 46 12 Q48 4 50 0 L126 0 L126 86Z" fill="url(#p5mound)"/><ellipse cx="110" cy="44" rx="18" ry="34" fill="#ecbc84" opacity="0.45"/><path d="M118 0 L126 0 L126 26 Q120 14 118 0Z" fill="#b07048" opacity="0.7"/><path d="M50 20 Q54 7 64 5 Q80 2 92 7 Q98 16 96.5 30 Q95 44 88 54 Q76 58 64 56 Q53 44 50 20Z" fill="#4a1c0a"/><path d="M50 24 Q68 20 96 26 Q97 36 95 42 Q70 44 54 38Z" fill="#c89250" opacity="0.95"/><path d="M54 28 Q72 25 92 30" stroke="#f0d090" stroke-width="2.2" fill="none" opacity="0.8"/><path d="M52 2 Q58 -1 63 2 L62 20 Q56 18 53 10Z" fill="#ea9a40"/><path d="M60 8 Q70 4 84 8" stroke="#d07830" stroke-width="2" fill="none" opacity="0.6"/><path d="M21 22 L19 10 M25 20 L28 13" stroke="#2a2420" stroke-width="1" fill="none"/><ellipse cx="17" cy="55" rx="5" ry="12" fill="#2e2a26" transform="rotate(8 17 55)"/><path d="M13 50 L21 50 M13 56 L20 57" stroke="#a89040" stroke-width="1.1" fill="none"/><ellipse cx="22" cy="37" rx="6.5" ry="8" fill="#3a3632"/><ellipse cx="23" cy="35" rx="3" ry="4" fill="#7a7670" opacity="0.6"/><ellipse cx="27" cy="25.5" rx="6.5" ry="4.8" fill="#3a3632"/><ellipse cx="31" cy="25" rx="2.5" ry="2.5" fill="#a09080"/><path d="M27 34 L34 33 M27 42 L35 43 M20 46 L28 56" stroke="#8a7a48" stroke-width="1.2" fill="none"/></g><rect width="126.1" height="84.15" filter="url(#nz5)" style="mix-blend-mode:overlay" opacity="0.15"/></g>
<g transform="translate(555.55 114.05)" clip-path="url(#cp5)" style="isolation:isolate"><rect width="126.2" height="84.15" fill="#d08c40"/><g filter="url(#b3)"><ellipse cx="44" cy="14" rx="40" ry="14" fill="#e4aa5a" opacity="0.7"/><ellipse cx="60" cy="28" rx="30" ry="6" fill="#d8a870" opacity="0.5"/><path d="M0 20 Q14 36 26 50 L0 56Z" fill="#b8682c" opacity="0.8"/><ellipse cx="8" cy="44" rx="10" ry="12" fill="#b46430" opacity="0.7"/></g><path d="M22 52 Q50 40 76 40 Q100 44 126 46 L126 86 L30 86 Q26 64 22 52Z" fill="#c06c28" filter="url(#b08)"/><ellipse cx="108" cy="72" rx="22" ry="14" fill="#d08838" filter="url(#b3)" opacity="0.7"/><rect width="126.2" height="84.15" filter="url(#noise6)" opacity="0.55" clip-path="url(#cl6)"/><rect width="126.2" height="84.15" filter="url(#nz6)" style="mix-blend-mode:overlay" opacity="0.12"/><g filter="url(#b05)"><path d="M0 56 Q14 54 26 60 L30 86 L0 86Z" fill="#2a1608"/><path d="M0 62 Q12 62 20 68 L22 86 L0 86Z" fill="#1a0c04" opacity="0.8"/><path d="M82 0 L121 0 Q118 12 118 22 Q120 36 126 46 L126 49 Q116 46 106 48 Q96 49 92 46 Q92 36 92 24 Q90 10 82 0Z" fill="#4e2e1a"/><path d="M98 4 Q104 20 102 42" stroke="#6e4628" stroke-width="7" fill="none" opacity="0.5"/><path d="M121 0 L126 0 L126 30 Q120 16 121 0Z" fill="#d09050"/><path d="M12 36 Q30 33 54 37 Q56 43 50 46 Q28 46 12 42Z" fill="#c8bcae" opacity="0.85"/><path d="M16 39 Q32 37 50 40 M20 42 Q34 41 48 43" stroke="#8a6a50" stroke-width="0.7" fill="none" opacity="0.8"/><ellipse cx="29" cy="51.5" rx="12.5" ry="8" fill="#dc8430"/><ellipse cx="24" cy="49" rx="5" ry="3.5" fill="#f8c078" opacity="0.8"/><path d="M30 44 Q28 52 31 59 M36 45 Q34 52 37 58" stroke="#8a4a18" stroke-width="1.1" fill="none" opacity="0.7"/><path d="M50 50 L44 60 M58 50 L56 66 M64 50 L70 64 M72 52 L80 60" stroke="#8e8c88" stroke-width="2.2" fill="none" stroke-linecap="round"/><ellipse cx="59" cy="44" rx="10.5" ry="8" fill="#8e8c88"/><ellipse cx="57" cy="40.5" rx="6" ry="3.5" fill="#c4c2be" opacity="0.7"/><ellipse cx="73" cy="47" rx="5.5" ry="8" fill="#5a5854"/><ellipse cx="71" cy="44" rx="2.5" ry="3" fill="#9a9894" opacity="0.6"/><path d="M76 43 L88 36" stroke="#7a7876" stroke-width="1" fill="none"/></g></g>
<rect x="280.72" y="1.52" width="129.65" height="103.25" rx="1.2" fill="none" stroke="#3DA67B" stroke-width="3.65"/>
<rect x="417.02" y="1.52" width="129.75" height="103.25" rx="1.2" fill="none" stroke="#E0652F" stroke-width="3.65"/>
<rect x="553.73" y="1.52" width="129.85" height="103.25" rx="1.2" fill="none" stroke="#776DBD" stroke-width="3.65"/>
<rect x="280.72" y="112.23" width="129.65" height="103.05" rx="1.2" fill="none" stroke="#E8409A" stroke-width="3.65"/>
<rect x="417.02" y="112.23" width="129.75" height="103.05" rx="1.2" fill="none" stroke="#E8AA3C" stroke-width="3.65"/>
<rect x="553.73" y="112.23" width="129.85" height="103.05" rx="1.2" fill="none" stroke="#646464" stroke-width="3.65"/>
<text x="345.7" y="99.8" text-anchor="middle" style="font-family:&quot;Liberation Sans&quot;,sans-serif;font-weight:bold;font-style:italic;font-size:9.7px" textLength="89.3" lengthAdjust="spacingAndGlyphs">Meliponula bocandei</text>
<text x="482.2" y="99.5" text-anchor="middle" style="font-family:&quot;Liberation Sans&quot;,sans-serif;font-weight:bold;font-style:italic;font-size:9.6px" textLength="117.8" lengthAdjust="spacingAndGlyphs">M. (Axestotrigona) ferruginea</text>
<text x="618.4" y="99.5" text-anchor="middle" style="font-family:&quot;Liberation Sans&quot;,sans-serif;font-weight:bold;font-style:italic;font-size:9.6px" textLength="114.3" lengthAdjust="spacingAndGlyphs">M. (Axestotrigona) togoensis</text>
<text x="345.4" y="208.9" text-anchor="middle" style="font-family:&quot;Liberation Sans&quot;,sans-serif;font-weight:bold;font-style:italic;font-size:7.9px" textLength="116.2" lengthAdjust="spacingAndGlyphs"><tspan>Hypotrigona</tspan><tspan font-style="normal"> spp. &amp; </tspan><tspan>Liotrigona</tspan><tspan font-style="normal"> spp</tspan></text>
<text x="482" y="210.3" text-anchor="middle" style="font-family:&quot;Liberation Sans&quot;,sans-serif;font-weight:bold;font-style:italic;font-size:9.8px" textLength="53.2" lengthAdjust="spacingAndGlyphs">M. lendliana</text>
<text x="618.3" y="210.1" text-anchor="middle" style="font-family:&quot;Liberation Sans&quot;,sans-serif;font-weight:bold;font-style:italic;font-size:9.8px" textLength="70.4" lengthAdjust="spacingAndGlyphs">Plebeina armata</text>
</svg>
</body></html>
